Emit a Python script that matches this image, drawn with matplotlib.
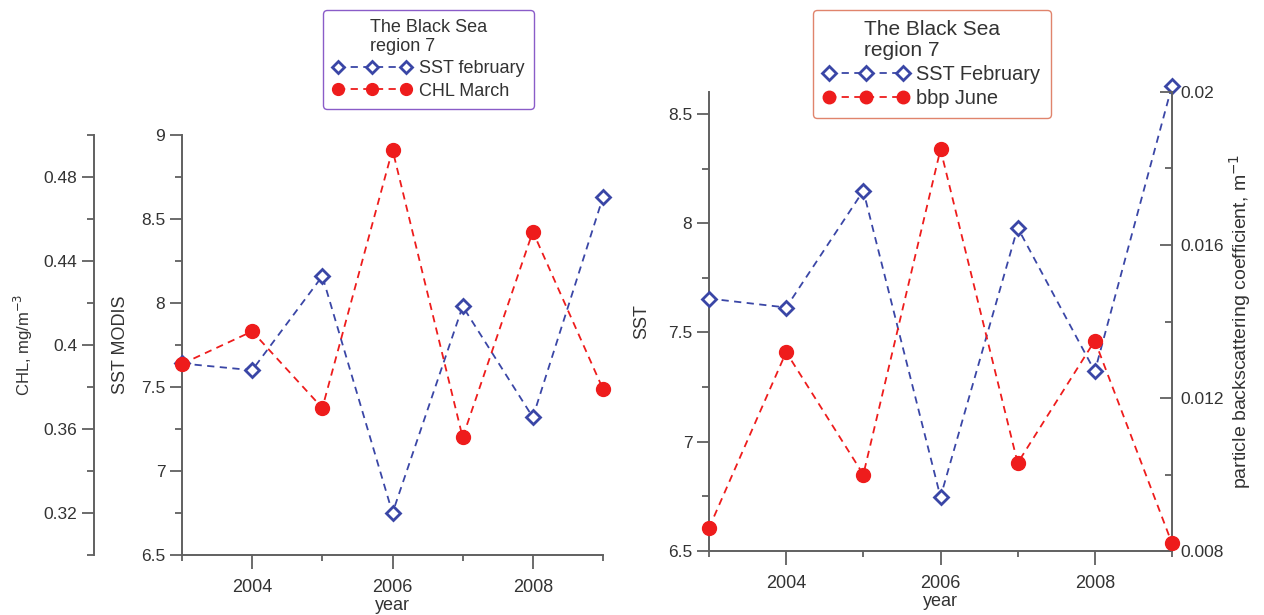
import matplotlib.pyplot as plt
from matplotlib.ticker import MultipleLocator, FuncFormatter
import numpy as np

plt.rcParams['font.family'] = ['Liberation Sans', 'DejaVu Sans']

years = [2003, 2004, 2005, 2006, 2007, 2008, 2009]

# left panel
sst_feb_modis = [7.64, 7.60, 8.16, 6.75, 7.98, 7.32, 8.63]
chl_march = [0.391, 0.4065, 0.370, 0.493, 0.356, 0.454, 0.379]

# right panel
sst_feb = [7.655, 7.614, 8.148, 6.747, 7.979, 7.322, 8.628]
bbp_june = [0.0086, 0.0132, 0.0100, 0.0185, 0.0103, 0.0135, 0.0082]

BLUE = '#3a46a6'
RED = '#ee1c1c'
AX_COL = '#606060'
TXT_COL = '#333333'
W, H = 1264, 615

fmt = FuncFormatter(lambda v, p: '{:g}'.format(round(v, 6)))

fig = plt.figure(figsize=(W / 100, H / 100), dpi=100)


def style_axis(a, sides):
    for s in ['top', 'right', 'left', 'bottom']:
        a.spines[s].set_visible(s in sides)
        a.spines[s].set_color(AX_COL)
        a.spines[s].set_linewidth(1.4)
    a.tick_params(which='both', colors=AX_COL, labelcolor=TXT_COL, labelsize=12.5, width=1.3)
    a.tick_params(which='major', length=8.5)
    a.tick_params(which='minor', length=5)


def style_x(a):
    a.set_xlim(2003, 2009)
    a.xaxis.set_major_locator(MultipleLocator(2))
    a.xaxis.set_minor_locator(MultipleLocator(1))
    a.tick_params(axis='x', which='major', direction='out', length=10, pad=7, labelsize=13)
    a.tick_params(axis='x', which='minor', direction='out', length=4.5)
    a.set_xlabel('year', fontsize=13, color=TXT_COL, labelpad=1)


def sst_line(a, y):
    return a.plot(years, y, ls='--', lw=1.3, color=BLUE, marker='D', ms=7.5,
                  mfc='white', mec=BLUE, mew=2, dashes=(4, 3), clip_on=False, zorder=3)[0]


def red_line(a, y):
    return a.plot(years, y, ls='--', lw=1.3, color=RED, marker='o', ms=10,
                  mfc=RED, mec=RED, dashes=(4, 3), clip_on=False, zorder=4)[0]


def finish_legend(leg):
    leg.get_title().set_multialignment('left')
    leg.get_title().set_color(TXT_COL)
    leg.get_title().set_linespacing(1.15)
    leg.get_frame().set_linewidth(1.0)
    for t in leg.get_texts():
        t.set_color(TXT_COL)


# ---------------- left panel ----------------
ax1 = fig.add_axes([182 / W, 60 / H, 421 / W, 420 / H])
style_axis(ax1, ['left', 'bottom'])
style_x(ax1)
ax1.set_ylim(6.5, 9)
ax1.yaxis.set_major_locator(MultipleLocator(0.5))
ax1.yaxis.set_minor_locator(MultipleLocator(0.25))
ax1.yaxis.set_major_formatter(fmt)
ax1.tick_params(axis='y', which='both', direction='out')
ax1.set_ylabel('SST MODIS', fontsize=13, color=TXT_COL)
ax1.yaxis.set_label_coords(-0.127, 0.5)
l1 = sst_line(ax1, sst_feb_modis)

ax1c = ax1.twinx()
style_axis(ax1c, ['left'])
ax1c.spines['left'].set_position(('axes', (94 - 182) / 421))
ax1c.yaxis.set_ticks_position('left')
ax1c.yaxis.set_label_position('left')
ax1c.set_ylim(0.30, 0.50)
ax1c.yaxis.set_major_locator(MultipleLocator(0.04))
ax1c.yaxis.set_minor_locator(MultipleLocator(0.02))
ax1c.yaxis.set_major_formatter(fmt)
ax1c.tick_params(axis='y', which='both', direction='out')
ax1c.set_ylabel('CHL, mg/m$^{-3}$', fontsize=12, color=TXT_COL)
ax1c.yaxis.set_label_coords(-0.348, 0.5)
l2 = red_line(ax1c, chl_march)

leg1 = fig.legend([l1, l2], ['SST february', 'CHL March'], loc='upper center',
                  bbox_to_anchor=(428.5 / W, 1 - 10 / H), borderaxespad=0,
                  numpoints=3, fontsize=13, markerscale=0.85,
                  title='The Black Sea\nregion 7', title_fontsize=13, handlelength=4.4,
                  handletextpad=0.4, borderpad=0.5, labelspacing=0.3, framealpha=1,
                  fancybox=True, edgecolor='#8a5cc8')
finish_legend(leg1)

# ---------------- right panel ----------------
ax2 = fig.add_axes([709 / W, 64 / H, 463 / W, 459 / H])
style_axis(ax2, ['left', 'bottom'])
style_x(ax2)
ax2.set_ylim(6.5, 8.6)
ax2.yaxis.set_major_locator(MultipleLocator(0.5))
ax2.yaxis.set_minor_locator(MultipleLocator(0.25))
ax2.yaxis.set_major_formatter(fmt)
ax2.tick_params(axis='y', which='both', direction='out')
ax2.set_ylabel('SST', fontsize=13, color=TXT_COL)
ax2.yaxis.set_label_coords(-0.127, 0.5)
r1 = sst_line(ax2, sst_feb)

ax2b = ax2.twinx()
style_axis(ax2b, ['right'])
ax2b.set_ylim(0.008, 0.02)
ax2b.yaxis.set_major_locator(MultipleLocator(0.004))
ax2b.yaxis.set_minor_locator(MultipleLocator(0.002))
ax2b.yaxis.set_major_formatter(fmt)
ax2b.tick_params(axis='y', which='both', direction='in', pad=6)
ax2b.set_ylabel('particle backscattering coefficient, m$^{-1}$', fontsize=14,
                color=TXT_COL)
ax2b.yaxis.set_label_coords(1.12, 0.5)
r2 = red_line(ax2b, bbp_june)

leg2 = fig.legend([r1, r2], ['SST February', 'bbp June'], loc='upper center',
                  bbox_to_anchor=(931.5 / W, 1 - 10 / H), borderaxespad=0,
                  numpoints=3, fontsize=14.4, markerscale=0.9,
                  title='The Black Sea\nregion 7', title_fontsize=15, handlelength=4.3,
                  handletextpad=0.4, borderpad=0.5, labelspacing=0.25, framealpha=1,
                  fancybox=True, edgecolor='#e0846c')
finish_legend(leg2)

fig.savefig('out.png', dpi=100, facecolor='white')
